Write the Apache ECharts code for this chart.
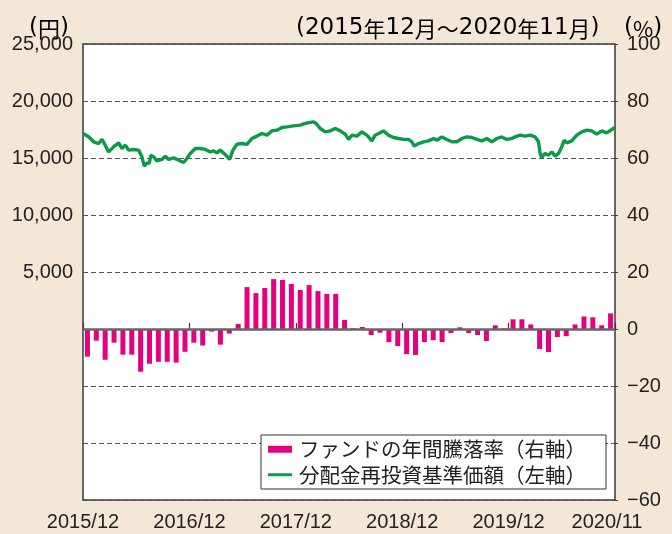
<!DOCTYPE html>
<html><head><meta charset="utf-8">
<script src="https://cdn.jsdelivr.net/npm/echarts@6/dist/echarts.min.js"></script>
<style>html,body{margin:0;padding:0;background:#f3e8d7;}#c{width:672px;height:534px;}</style>
</head><body><div id="c"></div>
<script>
// x-axis tick labels (at 12-month boundaries) 
const xTickLabels = ['2015/12', '2016/12', '2017/12', '2018/12', '2019/12', '2020/11'];
// months 2015/12 .. 2020/11
const months = [];
for (let y = 2015, m = 12; months.length < 60; ) { months.push(y + '/' + m); m++; if (m > 12) { m = 1; y++; } }
// ファンドの年間騰落率 (%), right axis
const annualReturn = [-9.7, -4.1, -10.8, -4.8, -9.0, -9.0, -15.0, -12.2, -11.5, -11.5, -11.8, -8.0,
  -4.8, -5.8, -0.9, -5.5, -1.6, 1.8, 14.7, 12.6, 14.4, 17.5, 17.2, 15.8,
  13.7, 15.4, 13.3, 12.3, 12.3, 3.2, 0.3, 0.7, -2.1, -1.3, -4.6, -6.0,
  -8.8, -9.1, -4.6, -3.9, -4.6, -1.4, 0.6, -1.4, -2.1, -4.2, 1.3, 0.2,
  3.4, 3.4, 1.6, -7.0, -8.1, -2.8, -2.5, 1.6, 4.4, 4.1, 1.3, 5.5];
// 分配金再投資基準価額 (円), left axis; position in months since start of 2015/12
const navMonth = [0, 0.63, 1.2, 1.76, 2.14, 2.4, 2.89, 3.45, 4.02, 4.39, 4.77, 5.14, 5.71, 6.27, 6.65, 6.91, 7.21, 7.47, 7.66, 7.96,
  8.34, 8.9, 9.28, 9.65, 10.22, 10.78, 11.35, 11.72, 12.1, 12.66, 13.22, 13.79, 14.35, 14.73, 15.1, 15.48, 16.04, 16.53, 16.91, 17.36,
  17.92, 18.49, 19.05, 19.61, 20.18, 20.74, 21.3, 21.87, 22.43, 23.0, 23.75, 24.5, 25.06, 25.63, 26.0, 26.3, 26.75, 27.32, 27.88, 28.44,
  29.01, 29.57, 29.95, 30.32, 30.89, 31.45, 32.01, 32.58, 32.95, 33.52, 33.89, 34.46, 35.02, 35.58, 36.15, 36.71, 37.09, 37.35, 37.84, 38.4,
  38.97, 39.53, 39.91, 40.47, 41.03, 41.6, 42.16, 42.73, 43.29, 43.85, 44.42, 44.98, 45.54, 46.11, 46.67, 47.23, 47.8, 48.36, 48.74, 49.3,
  49.86, 50.43, 50.99, 51.37, 51.56, 51.74, 52.12, 52.5, 52.87, 53.25, 53.63, 54.0, 54.26, 54.56, 55.13, 55.69, 56.25, 56.82, 57.38, 57.94,
  58.51, 59.07, 59.64, 60.0];
const navValue = [17150, 16860, 16420, 16270, 16630, 16270, 15540, 15980, 16330, 15830, 16130, 15690, 15750, 15690, 15100, 14280, 14570, 14520, 15250, 15100,
  14750, 14870, 15160, 14870, 15010, 14810, 14600, 14960, 15400, 15830, 15830, 15750, 15540, 15620, 15450, 15690, 15310, 14870, 15690, 16210,
  16270, 16190, 16710, 16920, 17150, 17000, 17380, 17440, 17680, 17730, 17820, 17880, 18030, 18120, 18170, 18030, 17590, 17290, 17380, 17590,
  17380, 17090, 16630, 17000, 16920, 17290, 17000, 16500, 17000, 17210, 17380, 17000, 16800, 16710, 16630, 16630, 16420, 16040, 16270, 16420,
  16500, 16710, 16560, 16850, 16630, 16420, 16420, 16710, 16850, 16800, 16630, 16500, 16710, 16420, 16710, 16850, 16630, 16710, 16850, 17000,
  16920, 17000, 16850, 16420, 15400, 15040, 15400, 15250, 15540, 15160, 15400, 15980, 16560, 16330, 16500, 17000, 17290, 17440, 17380, 17090,
  17380, 17210, 17500, 17680];
const leftTicks = { min: -15000, max: 25000, interval: 5000 };
const rightTicks = { min: -60, max: 100, interval: 20 };
const seriesNames = ['ファンドの年間騰落率（右軸）', '分配金再投資基準価額（左軸）'];

const NUM_FONT = "'Liberation Sans', Arial, sans-serif";
const JP_FONT = "'Noto Sans CJK JP', sans-serif";
const WIDE_FONT = "'DejaVu Sans', sans-serif";

const chart = echarts.init(document.getElementById('c'), null, { renderer: 'canvas' });
const headRich = {
  n: { fontFamily: WIDE_FONT, fontSize: 23, color: '#222' },
  j: { fontFamily: JP_FONT, fontSize: 22, color: '#222' }
};
chart.setOption({
  backgroundColor: '#f3e8d7',
  animation: false,
  grid: { left: 83, right: 57, top: 44, bottom: 34, show: true, backgroundColor: '#fff', borderColor: '#3a3a3a', borderWidth: 1.5 },
  graphic: [
    { type: 'text', left: 29, top: 17, style: { text: '{n|(}{j|円}{n|)}', rich: headRich } },
    { type: 'text', left: 296, top: 17, style: { text: '{n|(2015}{j|年}{n|12}{j|月～}{n|2020}{j|年}{n|11}{j|月}{n|)}', rich: headRich } },
    { type: 'text', left: 624, top: 17, style: { text: '{n|(}{j|%}{n|)}', rich: headRich } }
  ],
  legend: {
    left: 261, top: 435, orient: 'vertical',
    backgroundColor: '#fff', borderColor: '#333', borderWidth: 1, borderRadius: 0,
    padding: [4, 20, 4, 7], itemGap: 5, itemWidth: 24, itemHeight: 7,
    textStyle: { fontFamily: JP_FONT, fontSize: 20.5, color: '#222', padding: [0, 0, 0, 2] },
    data: [
      { name: seriesNames[0], icon: 'rect' },
      { name: seriesNames[1], icon: 'path://M0,0 L24,0 L24,3 L0,3 Z' }
    ]
  },
  xAxis: {
    type: 'value', min: 0, max: 60, interval: 12,
    axisLine: { show: false },
    axisTick: { show: true, inside: true, length: 6, lineStyle: { color: '#3a3a3a', width: 1.2 } },
    splitLine: { show: false },
    axisLabel: {
      margin: 12, fontFamily: NUM_FONT, fontSize: 20, color: '#222',
      formatter: function (v) { const s = xTickLabels[Math.round(v / 12)]; return v === 60 ? '{e|' + s + '}' : s; },
      rich: { e: { fontFamily: NUM_FONT, fontSize: 20, color: '#222', padding: [0, 16, 0, 0] } }
    }
  },
  yAxis: [
    {
      type: 'value', min: leftTicks.min, max: leftTicks.max, interval: leftTicks.interval,
      axisLine: { show: false }, axisTick: { show: false },
      splitLine: { show: true, lineStyle: { color: '#555', width: 1, type: [5, 3] } },
      axisLabel: { margin: 10, fontFamily: NUM_FONT, fontSize: 20, color: '#222',
        formatter: function (v) { return v > 0 ? v.toLocaleString('en-US') : ''; } }
    },
    {
      type: 'value', min: rightTicks.min, max: rightTicks.max, interval: rightTicks.interval,
      axisLine: { show: false },
      axisTick: { show: true, length: 3, lineStyle: { color: '#3a3a3a' } },
      splitLine: { show: false },
      axisLabel: { margin: 12, fontFamily: NUM_FONT, fontSize: 20, color: '#222',
        formatter: function (v) { return v < 0 ? '\u2212' + (-v) : String(v); } }
    }
  ],
  series: [
    {
      name: seriesNames[0], type: 'bar', yAxisIndex: 1, barWidth: 5, z: 2,
      itemStyle: { color: '#e4007f' },
      data: annualReturn.map((v, i) => [i + 0.5, v]),
      markLine: { silent: true, symbol: 'none', label: { show: false },
        lineStyle: { color: '#666', width: 2.5, type: 'solid' }, data: [{ yAxis: 0 }] }
    },
    {
      name: seriesNames[1], type: 'line', yAxisIndex: 0, z: 3, showSymbol: false,
      lineStyle: { color: '#0a9a48', width: 3.4 }, itemStyle: { color: '#0a9a48' },
      data: navMonth.map((m, i) => [m, navValue[i]])
    }
  ]
});
</script></body></html>
